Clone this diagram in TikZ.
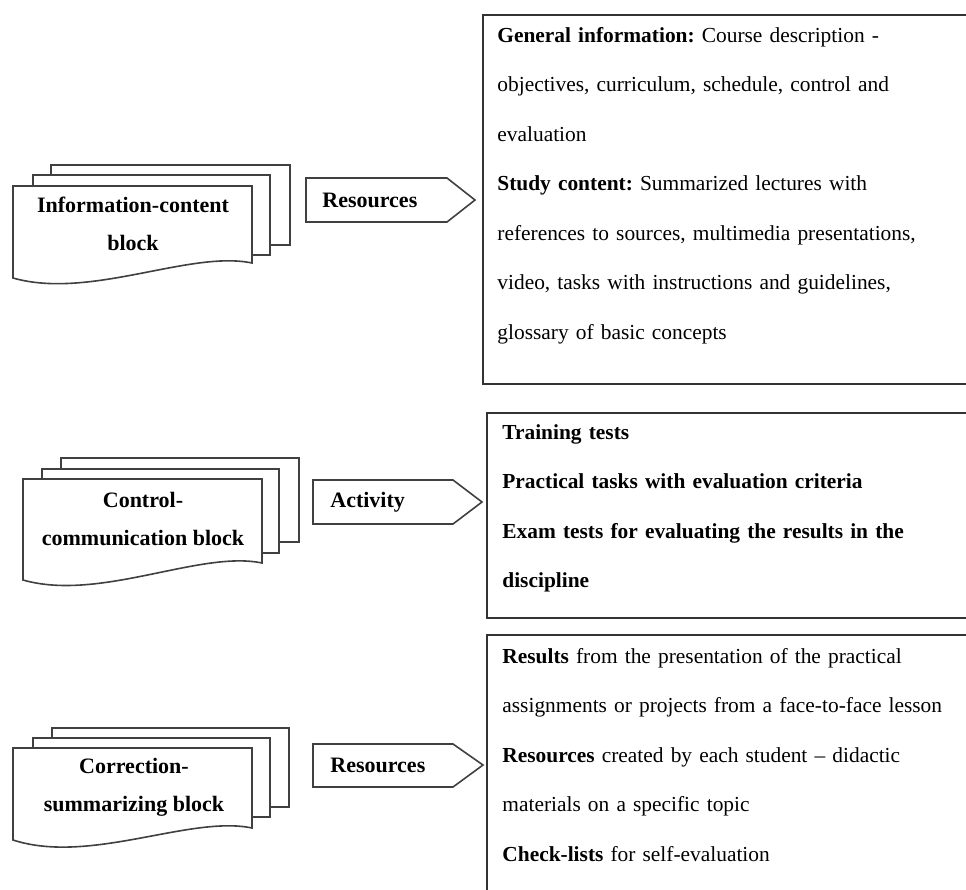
\documentclass[tikz,border=0pt]{standalone}
\usepackage{fontspec}
\setmainfont{Liberation Serif}
\frenchspacing

\tikzset{
  sheet/.style={draw=black!75,line width=0.8pt,fill=white},
  tag/.style={draw=black!75,line width=0.8pt,fill=white},
  panel/.style={draw=black!80,line width=0.8pt},
  blocktext/.style={font=\bfseries\fontsize{11}{19}\selectfont,align=center,inner sep=0pt},
  tagtext/.style={font=\bfseries\fontsize{11}{13}\selectfont,anchor=west,inner sep=0pt},
  listtext/.style={font=\frenchspacing\fontsize{10.7}{24.75}\selectfont,anchor=base west,inner sep=0pt,text width=230pt,align=left}
}

\begin{document}
\begin{tikzpicture}[x=0.5pt,y=-0.5pt]
\useasboundingbox (0,0) rectangle (966,890);
\clip (0,0) rectangle (966,890);
% information-content block
\draw[sheet] (51,165) rectangle (290,245);
\draw[sheet] (33,175) rectangle (270,255);
\draw[sheet] (13,186) -- (252,186) -- (252,263) .. controls (190,250) and (90,300) .. (13,278) -- cycle;
\node[blocktext] (infoblock) at (133,224) {Information-content\\block};
\draw[tag] (306,178) -- (447,178) -- (475,200) -- (447,222) -- (306,222) -- cycle;
\node[tagtext] (res1) at (322,200) {Resources};
\draw[panel] (483,15) rectangle (990,384);
\node[listtext] (info) at (497,42) {\textbf{General information:} Course description -\\
objectives, curriculum, schedule, control and\\
evaluation\\
\textbf{Study content:} Summarized lectures with\\
references to sources, multimedia presentations,\\
video, tasks with instructions and guidelines,\\
glossary of basic concepts};
% control-communication block
\draw[sheet] (61,458) rectangle (299,542);
\draw[sheet] (42,469) rectangle (279,553);
\draw[sheet] (23,479) -- (262,479) -- (262,563) .. controls (200,550) and (100,602) .. (23,580) -- cycle;
\node[blocktext] (ctrlblock) at (143,519) {Control-\\communication block};
\draw[tag] (313,480) -- (453,480) -- (482,502) -- (453,524) -- (313,524) -- cycle;
\node[tagtext] (act) at (330,502) {Activity};
\draw[panel] (487,413) rectangle (990,618);
\node[listtext] (tests) at (502,439) {\textbf{Training tests}\\
\textbf{Practical tasks with evaluation criteria}\\
\textbf{Exam tests for evaluating the results in the}\\
\textbf{discipline}};
% correction-summarizing block
\draw[sheet] (52,728) rectangle (289,807);
\draw[sheet] (33,738) rectangle (270,817);
\draw[sheet] (13,748) -- (252,748) -- (252,828) .. controls (190,815) and (90,865) .. (13,840) -- cycle;
\node[blocktext] (corrblock) at (134,787) {Correction-\\summarizing block};
\draw[tag] (313,744) -- (453,744) -- (483,765) -- (453,787) -- (313,787) -- cycle;
\node[tagtext] (res2) at (330,765) {Resources};
\draw[panel] (487,635) rectangle (990,910);
\node[listtext] (results) at (502,663) {\textbf{Results} from the presentation of the practical\\
assignments or projects from a face-to-face lesson\\
\textbf{Resources} created by each student – didactic\\
materials on a specific topic\\
\textbf{Check-lists} for self-evaluation};
\end{tikzpicture}
\end{document}
